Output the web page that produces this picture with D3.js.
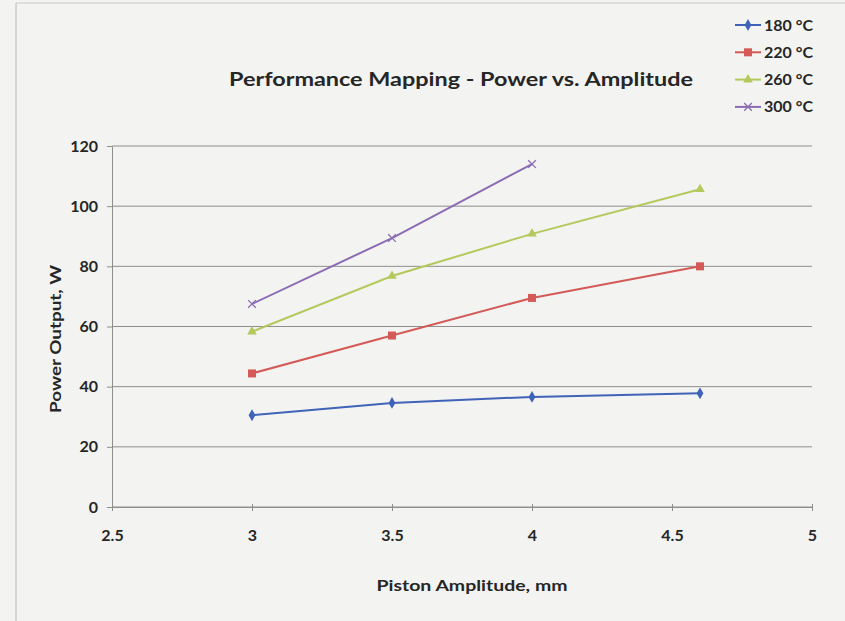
<!DOCTYPE html>
<html><head><meta charset="utf-8">
<script src="https://cdn.jsdelivr.net/npm/d3@7"></script>
<style>body{margin:0;background:#f3f3f1;}svg{display:block;}</style>
</head><body>
<script>
const amplitudes180 = [3, 3.5, 4, 4.6];
const power180 = [30.5, 34.6, 36.6, 37.8];
const amplitudes220 = [3, 3.5, 4, 4.6];
const power220 = [44.4, 57.0, 69.5, 80.0];
const amplitudes260 = [3, 3.5, 4, 4.6];
const power260 = [58.3, 76.8, 90.8, 105.6];
const amplitudes300 = [3, 3.5, 4];
const power300 = [67.5, 89.4, 114.0];
const seriesNames = ["180 °C", "220 °C", "260 °C", "300 °C"];
const xTicks = [2.5, 3, 3.5, 4, 4.5, 5];
const yTicks = [0, 20, 40, 60, 80, 100, 120];

const series = [
  {name: seriesNames[0], xs: amplitudes180, ys: power180, color: "#3f63b8", marker: "diamond"},
  {name: seriesNames[1], xs: amplitudes220, ys: power220, color: "#d45a58", marker: "square"},
  {name: seriesNames[2], xs: amplitudes260, ys: power260, color: "#b3c95c", marker: "triangle"},
  {name: seriesNames[3], xs: amplitudes300, ys: power300, color: "#8a6cb5", marker: "x"}
];

const W = 845, H = 621;
const svg = d3.select("body").append("svg").attr("width", W).attr("height", H);
const font = "Lato, 'Open Sans', sans-serif";
const txt = "#262626";

// chart border
svg.append("line").attr("x1",16).attr("x2",16).attr("y1",3).attr("y2",H).attr("stroke","#b8b8b8");
svg.append("line").attr("x1",16).attr("x2",W).attr("y1",3).attr("y2",3).attr("stroke","#c8c8c8");

const x = d3.scaleLinear().domain([2.5, 5]).range([112, 812]);
const y = d3.scaleLinear().domain([0, 120]).range([507, 146]);

// gridlines
svg.append("g").selectAll("line").data(yTicks).join("line")
  .attr("x1", x(2.5)).attr("x2", x(5))
  .attr("y1", d => y(d)).attr("y2", d => y(d))
  .attr("stroke", "#8e8e8e").attr("stroke-width", 1);

// y axis
const yAxis = svg.append("g").attr("transform", `translate(${x(2.5)},0)`)
  .call(d3.axisLeft(y).tickValues(yTicks).tickSize(5).tickPadding(9).tickSizeOuter(0));
yAxis.select(".domain").attr("stroke", "#8e8e8e");
yAxis.selectAll(".tick line").attr("stroke", "#8e8e8e");
yAxis.selectAll("text").attr("font-family", font).attr("font-size", 16).attr("font-weight", "bold").attr("fill", txt);

// x axis
const xAxis = svg.append("g").attr("transform", `translate(0,${y(0)})`)
  .call(d3.axisBottom(x).tickValues(xTicks).tickFormat(d3.format("")).tickSize(4).tickPadding(19).tickSizeOuter(0));
xAxis.select(".domain").attr("stroke", "#8e8e8e");
xAxis.selectAll(".tick line").attr("stroke", "#8e8e8e").attr("y1", -3);
xAxis.selectAll("text").attr("font-family", font).attr("font-size", 16).attr("font-weight", "bold").attr("fill", txt);

// lines and markers
const line = d3.line().x(d => x(d[0])).y(d => y(d[1]));
function drawMarker(g, type, cx, cy, color) {
  if (type === "diamond") {
    g.append("path").attr("d", d3.symbol(d3.symbolDiamond, 40)()).attr("transform", `translate(${cx},${cy})`).attr("fill", color);
  } else if (type === "square") {
    g.append("rect").attr("x", cx-4).attr("y", cy-4).attr("width", 8).attr("height", 8).attr("fill", color);
  } else if (type === "triangle") {
    g.append("path").attr("d", d3.symbol(d3.symbolTriangle, 40)()).attr("transform", `translate(${cx},${cy})`).attr("fill", color);
  } else {
    g.append("path").attr("d", d3.symbol(d3.symbolX, 40)()).attr("transform", `translate(${cx},${cy})`).attr("fill", "none").attr("stroke", color).attr("stroke-width", 1.3);
  }
}
const plot = svg.append("g");
series.forEach(s => {
  const pts = s.xs.map((v, i) => [v, s.ys[i]]);
  plot.append("path").datum(pts).attr("d", line).attr("fill", "none").attr("stroke", s.color).attr("stroke-width", 2);
  pts.forEach(p => drawMarker(plot, s.marker, x(p[0]), y(p[1]), s.color));
});

// title
svg.append("text").attr("x", 461).attr("y", 86).attr("text-anchor", "middle")
  .attr("font-family", font).attr("font-size", 18).attr("font-weight", "bold").attr("fill", txt)
  .attr("textLength", 464).attr("lengthAdjust", "spacingAndGlyphs")
  .text("Performance Mapping - Power vs. Amplitude");

// axis titles
svg.append("text").attr("x", 472).attr("y", 591).attr("text-anchor", "middle")
  .attr("font-family", font).attr("font-size", 15).attr("font-weight", "bold").attr("fill", txt)
  .attr("textLength", 191).attr("lengthAdjust", "spacingAndGlyphs")
  .text("Piston Amplitude, mm");
svg.append("text").attr("transform", "translate(61,339) rotate(-90)").attr("text-anchor", "middle")
  .attr("font-family", font).attr("font-size", 15).attr("font-weight", "bold").attr("fill", txt)
  .attr("textLength", 148).attr("lengthAdjust", "spacingAndGlyphs")
  .text("Power Output, W");

// legend
const legend = svg.append("g");
series.forEach((s, i) => {
  const ly = 25 + i * 27.3;
  legend.append("line").attr("x1", 735).attr("x2", 761).attr("y1", ly).attr("y2", ly).attr("stroke", s.color).attr("stroke-width", 2);
  drawMarker(legend, s.marker, 748, ly, s.color);
  legend.append("text").attr("x", 764).attr("y", ly + 5.5).attr("font-family", font).attr("font-size", 16)
    .attr("font-weight", "bold").attr("fill", txt).text(s.name);
});
</script>
</body></html>
